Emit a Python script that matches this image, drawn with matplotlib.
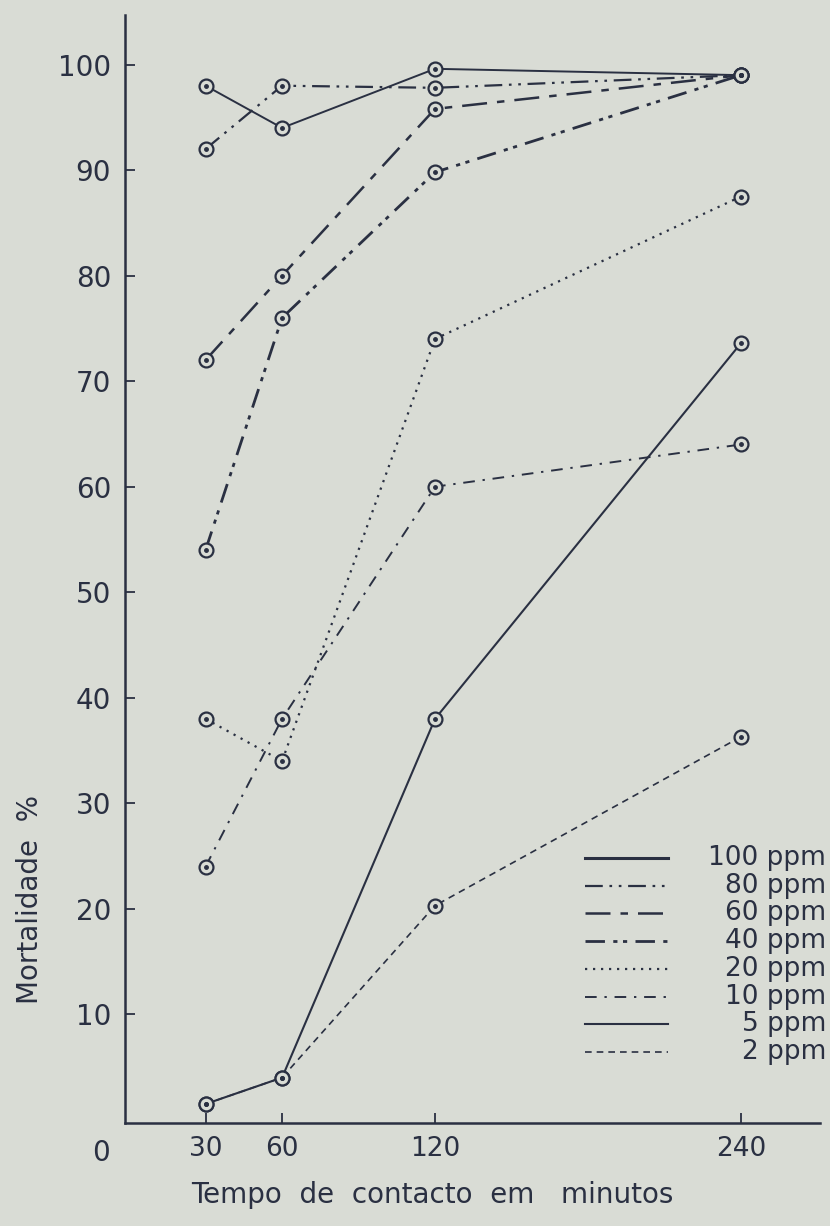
import matplotlib.pyplot as plt
from matplotlib.lines import Line2D

# ## Data
tempo = [30, 60, 120, 240]                       # minutos
ppm100 = [98, 94, 99.6, 99]
ppm80 = [92, 98, 97.8, 99]
ppm60 = [72, 80, 95.8, 99]
ppm40 = [54, 76, 89.8, 99]
ppm20 = [38, 34, 74, 87.5]
ppm10 = [24, 38, 60, 64]
ppm5 = [1.5, 4, 38, 73.6]
ppm2 = [1.5, 4, 20.3, 36.3]
labels = ['100 ppm', '80 ppm', '60 ppm', '40 ppm', '20 ppm', '10 ppm', '5 ppm', '2 ppm']
yticks = [10, 20, 30, 40, 50, 60, 70, 80, 90, 100]
xticks = [30, 60, 120, 240]

ink = '#2a3042'
bg = '#d9dcd5'

# ## line styles per series
styles = [
    dict(ls='-', lw=1.4),
    dict(ls=(0, (8, 3, 1.2, 3, 1.2, 3)), lw=1.6),
    dict(ls=(0, (10, 4, 3, 4)), lw=1.8),
    dict(ls=(0, (7, 3, 1.5, 2, 1.5, 3)), lw=2.0),
    dict(ls=(0, (1, 2.6)), lw=1.6),
    dict(ls=(0, (6, 4, 1.2, 4)), lw=1.4),
    dict(ls='-', lw=1.5),
    dict(ls=(0, (4, 3)), lw=1.2),
]
series = [ppm100, ppm80, ppm60, ppm40, ppm20, ppm10, ppm5, ppm2]

fig = plt.figure(figsize=(8.3, 12.26), dpi=100, facecolor=bg)
ax = fig.add_axes([125 / 830, 1 - 1123 / 1226, 695 / 830, 1108 / 1226])
ax.set_facecolor(bg)

for vals, st in zip(series, styles):
    ax.plot(tempo, vals, color=ink, ls=st['ls'], lw=st['lw'], zorder=2)
    ax.plot(tempo, vals, ls='none', marker='o', ms=10, mfc=bg, mec=ink, mew=1.6, zorder=3)
    ax.plot(tempo, vals, ls='none', marker='o', ms=2.5, mfc=ink, mec=ink, zorder=4)

ax.set_xlim(-1.6, 271)
ax.set_ylim(-0.3, 104.7)
ax.spines['top'].set_visible(False)
ax.spines['right'].set_visible(False)
ax.spines['left'].set_linewidth(1.8)
ax.spines['bottom'].set_linewidth(1.8)
ax.spines['left'].set_color(ink)
ax.spines['bottom'].set_color(ink)

ax.set_yticks(yticks)
ax.set_xticks(xticks)
ax.tick_params(axis='y', direction='in', length=7, width=1.3, pad=10, labelsize=20, colors=ink)
ax.tick_params(axis='x', direction='in', length=7, width=1.3, pad=9, labelsize=19, colors=ink)

ax.text(-11, -1.8, '0', fontsize=20, color=ink, ha='center', va='top', clip_on=False)

fig.text(30 / 830, 1 - 900 / 1226, 'Mortalidade  %', rotation=90, fontsize=20,
         color=ink, ha='center', va='center')
fig.text(432 / 830, 1 - 1195 / 1226, 'Tempo  de  contacto  em   minutos', fontsize=20,
         color=ink, ha='center', va='center')

# ## legend, drawn by hand so labels sit right aligned
for i, (lab, st) in enumerate(zip(labels, styles)):
    yy = 1 - (858 + i * 27.7) / 1226
    fig.add_artist(Line2D([585 / 830, 668 / 830], [yy, yy], color=ink,
                          ls=st['ls'], lw=st['lw'] + (0.8 if i == 0 else 0)))
    fig.text(826 / 830, yy, lab, fontsize=19, color=ink, ha='right', va='center')

plt.savefig('out.png', dpi=100, facecolor=bg)
